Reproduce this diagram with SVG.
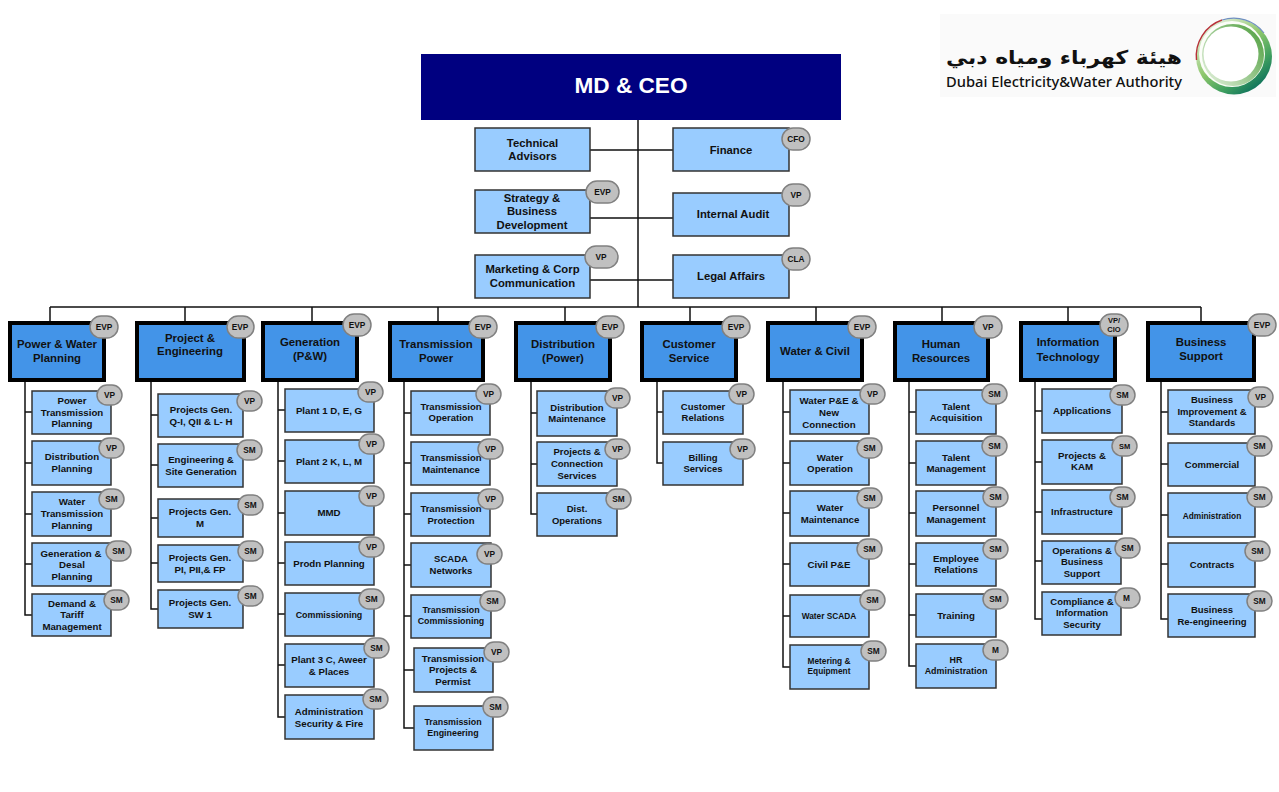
<svg xmlns="http://www.w3.org/2000/svg" width="1279" height="792" viewBox="0 0 1279 792">
<style>
text{font-family:"Liberation Sans",Arial,sans-serif;font-weight:700;text-anchor:middle;fill:#111}
.c{fill:#99ccff;stroke:#333;stroke-width:1.5}
.d{fill:#4394e8;stroke:#000;stroke-width:4}
.b{fill:#c0c0c0;stroke:#808080;stroke-width:1.5}
.t{font-size:9.7px}
.s{font-size:9.5px}
.x{font-size:8.9px}
.u{font-size:11.3px}
.h{font-size:11.4px}
.l{font-size:8.3px}
.conn{fill:none;stroke:#111;stroke-width:1.5}
</style>
<defs>
<linearGradient id="g1" x1="0.15" y1="0.1" x2="0.8" y2="0.95"><stop offset="0" stop-color="#e4f0da"/><stop offset="0.45" stop-color="#8cc66a"/><stop offset="0.75" stop-color="#3f9f5f"/><stop offset="1" stop-color="#0b6f5c"/></linearGradient>
<linearGradient id="g2" x1="1" y1="0.1" x2="0" y2="0.9"><stop offset="0" stop-color="#4f9f3f"/><stop offset="1" stop-color="#e3f1dc"/></linearGradient>
</defs>
<rect width="1279" height="792" fill="#fff"/>
<g id="logo">
<rect x="940" y="14" width="336" height="83" fill="#fafafa"/>
<circle cx="1234" cy="56.500" r="38" fill="url(#g1)"/>
<circle cx="1232" cy="54" r="33" fill="#fbfdf8"/>
<circle cx="1233" cy="55" r="31" fill="url(#g2)"/>
<circle cx="1231" cy="54" r="27.500" fill="#fff"/>
<path d="M1196.500 60A38 38 0 0 1 1222 20" fill="none" stroke="#b8323a" stroke-width="1.4"/>
<path d="M1222 20A38 38 0 0 1 1264 33" fill="none" stroke="#6f8fc0" stroke-width="1.2"/>
<text x="1064" y="64" font-size="19" textLength="236" lengthAdjust="spacingAndGlyphs" style="font-family:'DejaVu Sans',sans-serif;font-weight:700" direction="rtl">هيئة كهرباء ومياه دبي</text>
<text x="1064" y="87" font-size="15" textLength="236" lengthAdjust="spacingAndGlyphs" style="font-family:'Noto Sans',sans-serif;font-weight:500">Dubai Electricity&amp;Water Authority</text>
</g>
<g id="connectors" class="conn">
<path d="M638 120V307M50 307H1201M50 307V321M185 307V321M312 307V321M438 307V321M565 307V321M690 307V321M816 307V321M942 307V321M1068 307V321M1201 307V321"/>
<path d="M590 150H673M590 218H673M590 280H673"/>
<path d="M25 381V615H32M25 412H32M25 463H32M25 514H32M25 564H32"/>
<path d="M151 381V609H158M151 415H158M151 465H158M151 518H158M151 563H158"/>
<path d="M278 381V717H285M278 410H285M278 461H285M278 513H285M278 563H285M278 614H285M278 665H285"/>
<path d="M404 381V728H414M404 413H411M404 463H411M404 514H411M404 565H411M404 616H411M404 670H414"/>
<path d="M531 381V514H537M531 413H537M531 464H537"/>
<path d="M657 381V463H663M657 412H663"/>
<path d="M783 381V667H790M783 412H790M783 463H790M783 513H790M783 564H790M783 616H790"/>
<path d="M909 381V666H916M909 412H916M909 463H916M909 513H916M909 564H916M909 615H916"/>
<path d="M1035 381V619H1042M1035 411H1042M1035 462H1042M1035 512H1042M1035 561H1042"/>
<path d="M1161 381V619H1168M1161 412H1168M1161 464H1168M1161 515H1168M1161 564H1168"/>
</g>
<g id="ceo"><rect x="421" y="54" width="420" height="66" fill="#000080"/><text x="631" y="93" font-size="22.600" style="fill:#fff">MD &amp; CEO</text></g>
<g id="technical-advisors"><rect class="c" x="475" y="128" width="115" height="43"/><text class="u" x="532.500" y="147">Technical</text><text class="u" x="532.500" y="160">Advisors</text></g>
<g id="strategy"><rect class="c" x="475" y="190" width="115" height="43"/><text class="u" x="532" y="202">Strategy &amp;</text><text class="u" x="532" y="215">Business</text><text class="u" x="532" y="229">Development</text><rect class="b" x="586" y="181" width="33" height="22" rx="11"/><text class="l" x="602.500" y="195">EVP</text></g>
<g id="marketing"><rect class="c" x="475" y="255" width="115" height="43"/><text class="u" x="532.500" y="273">Marketing &amp; Corp</text><text class="u" x="532.500" y="287">Communication</text><rect class="b" x="585" y="246" width="33" height="22" rx="11"/><text class="l" x="601" y="260">VP</text></g>
<g id="finance"><rect class="c" x="673" y="128" width="116" height="43"/><text class="u" x="731" y="154">Finance</text><rect class="b" x="782" y="128" width="28" height="22" rx="11"/><text class="l" x="796" y="142">CFO</text></g>
<g id="internal-audit"><rect class="c" x="673" y="193" width="116" height="43"/><text class="u" x="733" y="218">Internal Audit</text><rect class="b" x="782" y="184" width="28" height="22" rx="11"/><text class="l" x="796" y="198">VP</text></g>
<g id="legal"><rect class="c" x="673" y="255" width="116" height="43"/><text class="u" x="731" y="280">Legal Affairs</text><rect class="b" x="782" y="248" width="28" height="22" rx="11"/><text class="l" x="796" y="262">CLA</text></g>

<g id="d1"><rect class="d" x="10" y="323" width="94" height="57"/><text class="h" x="57" y="348">Power &amp; Water</text><text class="h" x="57" y="362">Planning</text><rect class="b" x="90" y="316" width="28" height="22" rx="11"/><text class="l" x="104" y="330">EVP</text></g>
<g id="d2"><rect class="d" x="137" y="323" width="107" height="57"/><text class="h" x="190" y="342">Project &amp;</text><text class="h" x="190" y="355">Engineering</text><rect class="b" x="227" y="316" width="27" height="22" rx="11"/><text class="l" x="240" y="330">EVP</text></g>
<g id="d3"><rect class="d" x="263" y="323" width="94" height="57"/><text class="h" x="310" y="346">Generation</text><text class="h" x="310" y="360">(P&amp;W)</text><rect class="b" x="343" y="314" width="28" height="22" rx="11"/><text class="l" x="357" y="328">EVP</text></g>
<g id="d4"><rect class="d" x="390" y="323" width="93" height="57"/><text class="h" x="436" y="348">Transmission</text><text class="h" x="436" y="362">Power</text><rect class="b" x="469" y="316" width="28" height="22" rx="11"/><text class="l" x="483" y="330">EVP</text></g>
<g id="d5"><rect class="d" x="516" y="323" width="94" height="57"/><text class="h" x="563" y="348">Distribution</text><text class="h" x="563" y="362">(Power)</text><rect class="b" x="596" y="316" width="28" height="22" rx="11"/><text class="l" x="610" y="330">EVP</text></g>
<g id="d6"><rect class="d" x="642" y="323" width="94" height="57"/><text class="h" x="689" y="348">Customer</text><text class="h" x="689" y="362">Service</text><rect class="b" x="722" y="316" width="28" height="22" rx="11"/><text class="l" x="736" y="330">EVP</text></g>
<g id="d7"><rect class="d" x="768" y="323" width="94" height="57"/><text class="h" x="815" y="355">Water &amp; Civil</text><rect class="b" x="848" y="316" width="28" height="22" rx="11"/><text class="l" x="862" y="330">EVP</text></g>
<g id="d8"><rect class="d" x="895" y="323" width="93" height="57"/><text class="h" x="941" y="348">Human</text><text class="h" x="941" y="362">Resources</text><rect class="b" x="974" y="316" width="28" height="22" rx="11"/><text class="l" x="988" y="330">VP</text></g>
<g id="d9"><rect class="d" x="1021" y="323" width="94" height="57"/><text class="h" x="1068" y="346">Information</text><text class="h" x="1068" y="361">Technology</text><rect class="b" x="1100" y="314" width="28" height="22" rx="11"/><text class="l" x="1114" y="323" style="font-size:7.5px">VP/</text><text class="l" x="1114" y="332" style="font-size:7.5px">CIO</text></g>
<g id="d10"><rect class="d" x="1148" y="323" width="106" height="57"/><text class="h" x="1201" y="346">Business</text><text class="h" x="1201" y="360">Support</text><rect class="b" x="1248" y="314" width="28" height="22" rx="11"/><text class="l" x="1262" y="328">EVP</text></g>

<g id="c1-1"><rect class="c" x="32" y="391" width="79" height="43"/><text class="t" x="72" y="404">Power</text><text class="t" x="72" y="416">Transmission</text><text class="t" x="72" y="427">Planning</text><rect class="b" x="97" y="385" width="25" height="20" rx="10"/><text class="l" x="109.500" y="398">VP</text></g>
<g id="c1-2"><rect class="c" x="32" y="441" width="79" height="44"/><text class="t" x="72" y="460">Distribution</text><text class="t" x="72" y="472">Planning</text><rect class="b" x="99" y="438" width="25" height="20" rx="10"/><text class="l" x="111.500" y="451">VP</text></g>
<g id="c1-3"><rect class="c" x="32" y="492" width="79" height="44"/><text class="t" x="72" y="505">Water</text><text class="t" x="72" y="517">Transmission</text><text class="t" x="72" y="529">Planning</text><rect class="b" x="99" y="489" width="25" height="20" rx="10"/><text class="l" x="111.500" y="502">SM</text></g>
<g id="c1-4"><rect class="c" x="32" y="543" width="79" height="43"/><text class="t" x="71" y="557">Generation &amp;</text><text class="t" x="72" y="568">Desal</text><text class="t" x="72" y="580">Planning</text><rect class="b" x="106" y="541" width="25" height="20" rx="10"/><text class="l" x="118.500" y="554">SM</text></g>
<g id="c1-5"><rect class="c" x="32" y="594" width="79" height="42"/><text class="t" x="72" y="607">Demand &amp;</text><text class="t" x="72" y="618">Tariff</text><text class="t" x="72" y="630">Management</text><rect class="b" x="104" y="590" width="25" height="20" rx="10"/><text class="l" x="116.500" y="603">SM</text></g>

<g id="c2-1"><rect class="c" x="158" y="394" width="85" height="43"/><text class="t" x="201" y="413">Projects Gen.</text><text class="t" x="201" y="425">Q-I, QII &amp; L- H</text><rect class="b" x="237" y="391" width="25" height="20" rx="10"/><text class="l" x="249.500" y="404">VP</text></g>
<g id="c2-2"><rect class="c" x="158" y="444" width="85" height="43"/><text class="t" x="201" y="463">Engineering &amp;</text><text class="t" x="201" y="475">Site Generation</text><rect class="b" x="237" y="440" width="25" height="20" rx="10"/><text class="l" x="249.500" y="453">SM</text></g>
<g id="c2-3"><rect class="c" x="158" y="499" width="85" height="38"/><text class="t" x="200" y="515">Projects Gen.</text><text class="t" x="200" y="527">M</text><rect class="b" x="238" y="495" width="25" height="20" rx="10"/><text class="l" x="250.500" y="508">SM</text></g>
<g id="c2-4"><rect class="c" x="158" y="545" width="85" height="37"/><text class="t" x="200" y="561">Projects Gen.</text><text class="t" x="200" y="573">PI, PII,&amp; FP</text><rect class="b" x="238" y="541" width="25" height="20" rx="10"/><text class="l" x="250.500" y="554">SM</text></g>
<g id="c2-5"><rect class="c" x="158" y="590" width="85" height="38"/><text class="t" x="200" y="606">Projects Gen.</text><text class="t" x="200" y="618">SW 1</text><rect class="b" x="238" y="586" width="25" height="20" rx="10"/><text class="l" x="250.500" y="599">SM</text></g>

<g id="c3-1"><rect class="c" x="285" y="389" width="89" height="43"/><text class="t" x="329" y="414">Plant 1 D, E, G</text><rect class="b" x="358" y="382" width="25" height="20" rx="10"/><text class="l" x="370.500" y="395">VP</text></g>
<g id="c3-2"><rect class="c" x="285" y="440" width="89" height="43"/><text class="t" x="329" y="465">Plant 2 K, L, M</text><rect class="b" x="359" y="434" width="25" height="20" rx="10"/><text class="l" x="371.500" y="447">VP</text></g>
<g id="c3-3"><rect class="c" x="285" y="491" width="89" height="44"/><text class="t" x="329" y="516">MMD</text><rect class="b" x="359" y="486" width="25" height="20" rx="10"/><text class="l" x="371.500" y="499">VP</text></g>
<g id="c3-4"><rect class="c" x="285" y="542" width="89" height="43"/><text class="t" x="329" y="567">Prodn Planning</text><rect class="b" x="359" y="537" width="25" height="20" rx="10"/><text class="l" x="371.500" y="550">VP</text></g>
<g id="c3-5"><rect class="c" x="285" y="593" width="89" height="43"/><text class="x" x="329" y="618">Commissioning</text><rect class="b" x="359" y="589" width="25" height="20" rx="10"/><text class="l" x="371.500" y="602">SM</text></g>
<g id="c3-6"><rect class="c" x="285" y="644" width="89" height="43"/><text class="t" x="329" y="663">Plant 3 C, Aweer</text><text class="t" x="329" y="675">&amp; Places</text><rect class="b" x="364" y="638" width="25" height="20" rx="10"/><text class="l" x="376.500" y="651">SM</text></g>
<g id="c3-7"><rect class="c" x="285" y="695" width="89" height="44"/><text class="t" x="329" y="715">Administration</text><text class="t" x="329" y="727">Security &amp; Fire</text><rect class="b" x="363" y="689" width="25" height="20" rx="10"/><text class="l" x="375.500" y="702">SM</text></g>

<g id="c4-1"><rect class="c" x="411" y="391" width="79" height="44"/><text class="s" x="451" y="410">Transmission</text><text class="s" x="451" y="421">Operation</text><rect class="b" x="476" y="384" width="25" height="20" rx="10"/><text class="l" x="488.500" y="397">VP</text></g>
<g id="c4-2"><rect class="c" x="411" y="442" width="79" height="43"/><text class="s" x="451" y="461">Transmission</text><text class="s" x="451" y="473">Maintenance</text><rect class="b" x="478" y="439" width="25" height="20" rx="10"/><text class="l" x="490.500" y="452">VP</text></g>
<g id="c4-3"><rect class="c" x="411" y="493" width="79" height="43"/><text class="s" x="451" y="512">Transmission</text><text class="s" x="451" y="524">Protection</text><rect class="b" x="478" y="489" width="25" height="20" rx="10"/><text class="l" x="490.500" y="502">VP</text></g>
<g id="c4-4"><rect class="c" x="411" y="543" width="80" height="44"/><text class="s" x="451" y="562">SCADA</text><text class="s" x="451" y="574">Networks</text><rect class="b" x="477" y="544" width="25" height="20" rx="10"/><text class="l" x="489.500" y="557">VP</text></g>
<g id="c4-5"><rect class="c" x="411" y="595" width="80" height="43"/><text class="x" x="451" y="613">Transmission</text><text class="x" x="451" y="624">Commissioning</text><rect class="b" x="480" y="591" width="25" height="20" rx="10"/><text class="l" x="492.500" y="604">SM</text></g>
<g id="c4-6"><rect class="c" x="414" y="648" width="79" height="44"/><text class="t" x="453" y="662">Transmission</text><text class="t" x="453" y="673">Projects &amp;</text><text class="t" x="453" y="685">Permist</text><rect class="b" x="484" y="642" width="25" height="20" rx="10"/><text class="l" x="496.500" y="655">VP</text></g>
<g id="c4-7"><rect class="c" x="414" y="706" width="79" height="44"/><text class="x" x="453" y="725">Transmission</text><text class="x" x="453" y="736">Engineering</text><rect class="b" x="483" y="697" width="25" height="20" rx="10"/><text class="l" x="495.500" y="710">SM</text></g>

<g id="c5-1"><rect class="c" x="537" y="391" width="80" height="45"/><text class="s" x="577" y="411">Distribution</text><text class="s" x="577" y="422">Maintenance</text><rect class="b" x="605" y="388" width="25" height="20" rx="10"/><text class="l" x="617.500" y="401">VP</text></g>
<g id="c5-2"><rect class="c" x="537" y="442" width="80" height="44"/><text class="s" x="577" y="455">Projects &amp;</text><text class="s" x="577" y="467">Connection</text><text class="s" x="577" y="479">Services</text><rect class="b" x="605" y="439" width="25" height="20" rx="10"/><text class="l" x="617.500" y="452">VP</text></g>
<g id="c5-3"><rect class="c" x="537" y="493" width="80" height="43"/><text class="s" x="577" y="512">Dist.</text><text class="s" x="577" y="524">Operations</text><rect class="b" x="606" y="489" width="25" height="20" rx="10"/><text class="l" x="618.500" y="502">SM</text></g>

<g id="c6-1"><rect class="c" x="663" y="391" width="80" height="43"/><text class="s" x="703" y="410">Customer</text><text class="s" x="703" y="421">Relations</text><rect class="b" x="729" y="384" width="25" height="20" rx="10"/><text class="l" x="741.500" y="397">VP</text></g>
<g id="c6-2"><rect class="c" x="663" y="442" width="80" height="43"/><text class="s" x="703" y="461">Billing</text><text class="s" x="703" y="472">Services</text><rect class="b" x="730" y="439" width="25" height="20" rx="10"/><text class="l" x="742.500" y="452">VP</text></g>

<g id="c7-1"><rect class="c" x="790" y="390" width="79" height="44"/><text class="t" x="829" y="404">Water P&amp;E &amp;</text><text class="t" x="829" y="416">New</text><text class="t" x="829" y="428">Connection</text><rect class="b" x="860" y="384" width="25" height="20" rx="10"/><text class="l" x="872.500" y="397">VP</text></g>
<g id="c7-2"><rect class="c" x="790" y="441" width="79" height="44"/><text class="t" x="830" y="461">Water</text><text class="t" x="830" y="472">Operation</text><rect class="b" x="857" y="438" width="25" height="20" rx="10"/><text class="l" x="869.500" y="451">SM</text></g>
<g id="c7-3"><rect class="c" x="790" y="491" width="79" height="45"/><text class="t" x="830" y="511">Water</text><text class="t" x="830" y="523">Maintenance</text><rect class="b" x="857" y="488" width="25" height="20" rx="10"/><text class="l" x="869.500" y="501">SM</text></g>
<g id="c7-4"><rect class="c" x="790" y="543" width="79" height="43"/><text class="t" x="829" y="568">Civil P&amp;E</text><rect class="b" x="857" y="539" width="25" height="20" rx="10"/><text class="l" x="869.500" y="552">SM</text></g>
<g id="c7-5"><rect class="c" x="790" y="595" width="79" height="42"/><text class="l" x="829" y="619">Water SCADA</text><rect class="b" x="860" y="590" width="25" height="20" rx="10"/><text class="l" x="872.500" y="603">SM</text></g>
<g id="c7-6"><rect class="c" x="790" y="645" width="79" height="44"/><text class="l" x="829" y="664">Metering &amp;</text><text class="l" x="829" y="674">Equipment</text><rect class="b" x="861" y="641" width="25" height="20" rx="10"/><text class="l" x="873.500" y="654">SM</text></g>

<g id="c8-1"><rect class="c" x="916" y="390" width="80" height="44"/><text class="t" x="956" y="410">Talent</text><text class="t" x="956" y="421">Acquisition</text><rect class="b" x="982" y="384" width="25" height="20" rx="10"/><text class="l" x="994.500" y="397">SM</text></g>
<g id="c8-2"><rect class="c" x="916" y="441" width="80" height="44"/><text class="t" x="956" y="461">Talent</text><text class="t" x="956" y="472">Management</text><rect class="b" x="982" y="436" width="25" height="20" rx="10"/><text class="l" x="994.500" y="449">SM</text></g>
<g id="c8-3"><rect class="c" x="916" y="491" width="80" height="45"/><text class="t" x="956" y="511">Personnel</text><text class="t" x="956" y="523">Management</text><rect class="b" x="983" y="487" width="25" height="20" rx="10"/><text class="l" x="995.500" y="500">SM</text></g>
<g id="c8-4"><rect class="c" x="916" y="543" width="80" height="43"/><text class="t" x="956" y="562">Employee</text><text class="t" x="956" y="573">Relations</text><rect class="b" x="983" y="539" width="25" height="20" rx="10"/><text class="l" x="995.500" y="552">SM</text></g>
<g id="c8-5"><rect class="c" x="916" y="594" width="80" height="43"/><text class="t" x="956" y="619">Training</text><rect class="b" x="983" y="589" width="25" height="20" rx="10"/><text class="l" x="995.500" y="602">SM</text></g>
<g id="c8-6"><rect class="c" x="916" y="644" width="80" height="44"/><text class="x" x="956" y="663">HR</text><text class="x" x="956" y="674">Administration</text><rect class="b" x="983" y="640" width="25" height="20" rx="10"/><text class="l" x="995.500" y="653">M</text></g>

<g id="c9-1"><rect class="c" x="1042" y="389" width="80" height="44"/><text class="t" x="1082" y="414">Applications</text><rect class="b" x="1110" y="385" width="25" height="20" rx="10"/><text class="l" x="1122.500" y="398">SM</text></g>
<g id="c9-2"><rect class="c" x="1042" y="440" width="80" height="44"/><text class="t" x="1082" y="459">Projects &amp;</text><text class="t" x="1082" y="470">KAM</text><rect class="b" x="1112" y="436" width="25" height="20" rx="10"/><text class="l" x="1124.500" y="449" style="font-size:7.5px">SM</text></g>
<g id="c9-3"><rect class="c" x="1042" y="490" width="80" height="44"/><text class="s" x="1082" y="515">Infrastructure</text><rect class="b" x="1110" y="487" width="25" height="20" rx="10"/><text class="l" x="1122.500" y="500">SM</text></g>
<g id="c9-4"><rect class="c" x="1042" y="541" width="79" height="43"/><text class="s" x="1082" y="554">Operations &amp;</text><text class="s" x="1082" y="565">Business</text><text class="s" x="1082" y="577">Support</text><rect class="b" x="1115" y="538" width="25" height="20" rx="10"/><text class="l" x="1127.500" y="551">SM</text></g>
<g id="c9-5"><rect class="c" x="1042" y="592" width="79" height="43"/><text class="s" x="1082" y="605">Compliance &amp;</text><text class="s" x="1082" y="616">Information</text><text class="s" x="1082" y="628">Security</text><rect class="b" x="1115" y="588" width="25" height="20" rx="10"/><text class="l" x="1126.500" y="601">M</text></g>

<g id="c10-1"><rect class="c" x="1168" y="390" width="87" height="44"/><text class="s" x="1212" y="403">Business</text><text class="s" x="1212" y="415">Improvement &amp;</text><text class="s" x="1212" y="426">Standards</text><rect class="b" x="1248" y="387" width="25" height="20" rx="10"/><text class="l" x="1260.500" y="400">VP</text></g>
<g id="c10-2"><rect class="c" x="1168" y="443" width="87" height="43"/><text class="s" x="1212" y="468">Commercial</text><rect class="b" x="1247" y="436" width="25" height="20" rx="10"/><text class="l" x="1259.500" y="449">SM</text></g>
<g id="c10-3"><rect class="c" x="1168" y="493" width="87" height="44"/><text class="l" x="1212" y="519">Administration</text><rect class="b" x="1247" y="487" width="25" height="20" rx="10"/><text class="l" x="1259.500" y="500">SM</text></g>
<g id="c10-4"><rect class="c" x="1168" y="543" width="87" height="44"/><text class="s" x="1212" y="568">Contracts</text><rect class="b" x="1245" y="541" width="25" height="20" rx="10"/><text class="l" x="1257.500" y="554">SM</text></g>
<g id="c10-5"><rect class="c" x="1168" y="594" width="87" height="43"/><text class="s" x="1212" y="613">Business</text><text class="s" x="1212" y="625">Re-engineering</text><rect class="b" x="1247" y="591" width="25" height="20" rx="10"/><text class="l" x="1259.500" y="604">SM</text></g>
</svg>
